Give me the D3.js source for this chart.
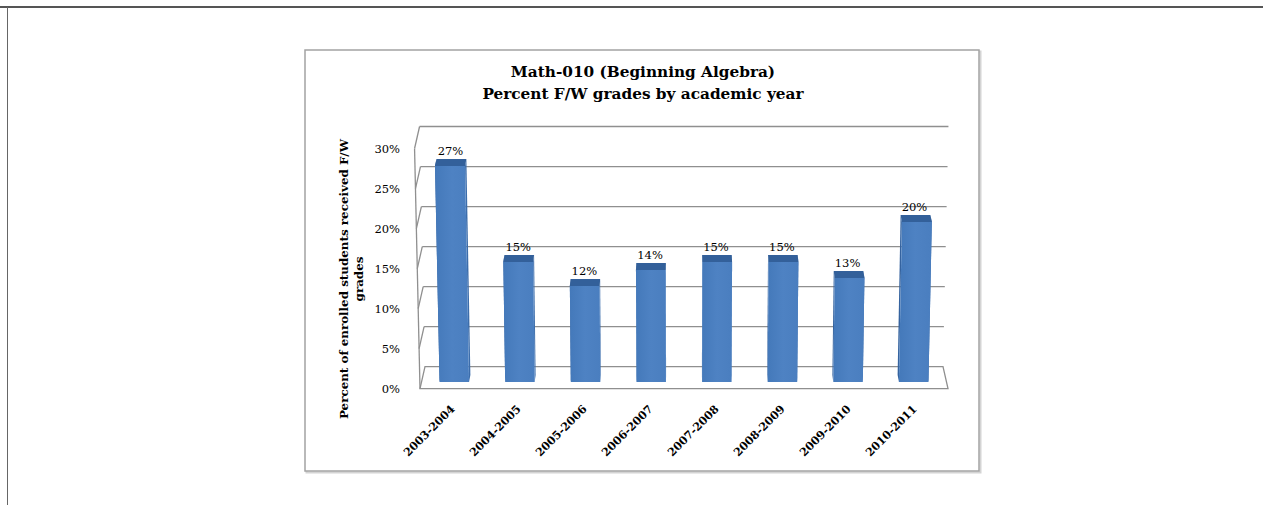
<!DOCTYPE html>
<html>
<head>
<meta charset="utf-8">
<script src="https://cdn.jsdelivr.net/npm/d3@7/dist/d3.min.js"></script>
<style>
  html, body { margin: 0; padding: 0; background: #fff; }
  svg { display: block; }
  text { font-family: "DejaVu Serif", "Liberation Serif", serif; fill: #000; }
</style>
</head>
<body>
<svg id="chart" width="1263" height="505"></svg>
<script>
// Academic years and share of F/W grades (percent)
const years = ["2003-2004", "2004-2005", "2005-2006", "2006-2007",
               "2007-2008", "2008-2009", "2009-2010", "2010-2011"];
const pctFW = [27, 15, 12, 14, 15, 15, 13, 20];
const tickValues = [0, 5, 10, 15, 20, 25, 30];
const titleLines = ["Math-010 (Beginning Algebra)", "Percent F/W grades by academic year"];
const yTitleLines = ["Percent of enrolled students received F/W", "grades"];

const svg = d3.select("#chart");

// page rules
svg.append("line").attr("x1", 0).attr("x2", 1263).attr("y1", 7).attr("y2", 7)
  .attr("stroke", "#555").attr("stroke-width", 2);
svg.append("line").attr("x1", 7.5).attr("x2", 7.5).attr("y1", 7).attr("y2", 505)
  .attr("stroke", "#666").attr("stroke-width", 1);

// chart area with soft shadow
const frame = { x: 305, y: 50, w: 674, h: 421 };
svg.append("rect").attr("x", frame.x + 1.5).attr("y", frame.y + 1.5)
  .attr("width", frame.w).attr("height", frame.h)
  .attr("fill", "none").attr("stroke", "#d4d4d4").attr("stroke-width", 2);
svg.append("rect").attr("x", frame.x).attr("y", frame.y)
  .attr("width", frame.w).attr("height", frame.h)
  .attr("fill", "#fff").attr("stroke", "#a3a3a3").attr("stroke-width", 1.5);

// title
const title = svg.append("text").attr("text-anchor", "middle")
  .attr("font-weight", "bold").attr("font-size", 15.3);
titleLines.forEach((t, i) => {
  title.append("tspan").attr("x", 643).attr("y", 77 + i * 22).text(t);
});

// 3-D plot geometry: u = horizontal position on the back floor edge,
// v = value (percent), d = depth (0 = back wall, 1 = front edge)
const X0 = 425, X1 = 943, CX = (X0 + X1) / 2, DEPTH = 22;
const y = d3.scaleLinear().domain([0, 30]).range([366.7, 126.5]);
const x = d3.scaleBand().domain(years).range([X0, X1])
  .paddingInner(0.55).paddingOuter(0.275);

function P(u, v, d) {
  const k = 1 + 0.0007 * v + 0.0193 * d;
  return [CX + (u - CX) * k, y(v) + DEPTH * d];
}
const poly = pts => pts.map(p => p.join(",")).join(" ");

const grid = svg.append("g").attr("stroke", "#8f8f8f").attr("stroke-width", 1.3)
  .attr("fill", "none");

// floor
grid.append("polygon")
  .attr("points", poly([P(X0, 0, 0), P(X1, 0, 0), P(X1, 0, 1), P(X0, 0, 1)]));

// back-wall and side-wall gridlines
tickValues.filter(v => v > 0).forEach(v => {
  const a = P(X0, v, 0), b = P(X1, v, 0), c = P(X0, v, 1);
  grid.append("line").attr("x1", a[0]).attr("y1", a[1]).attr("x2", b[0]).attr("y2", b[1]);
  grid.append("line").attr("x1", a[0]).attr("y1", a[1]).attr("x2", c[0]).attr("y2", c[1]);
});
// front edge of the side wall
{
  const a = P(X0, 0, 1), b = P(X0, 30, 1);
  grid.append("line").attr("x1", a[0]).attr("y1", a[1]).attr("x2", b[0]).attr("y2", b[1]);
}

// value axis (labels sit on the front plane)
const yFront = d3.scaleLinear().domain(y.domain()).range(y.range().map(r => r + DEPTH));
const yAxis = svg.append("g").attr("transform", "translate(402,0)")
  .call(d3.axisLeft(yFront).tickValues(tickValues).tickSize(0).tickPadding(2)
    .tickFormat(d => d + "%"));
yAxis.select(".domain").remove();
yAxis.selectAll("text").attr("font-family", "DejaVu Serif").attr("font-size", 11.5)
  .attr("fill", "#111");

// value axis title
yTitleLines.forEach((t, i) => {
  svg.append("text")
    .attr("transform", `translate(${348 + i * 15},279) rotate(-90)`)
    .attr("text-anchor", "middle").attr("font-weight", "bold").attr("font-size", 11.9)
    .text(t);
});

// bars
const D_FRONT = 0.7, D_BACK = 0.38;
const shade = svg.append("defs").append("linearGradient").attr("id", "front")
  .attr("x1", 0).attr("x2", 1).attr("y1", 0).attr("y2", 0);
shade.append("stop").attr("offset", 0).attr("stop-color", "#4479ba");
shade.append("stop").attr("offset", 0.5).attr("stop-color", "#4e82c3");
shade.append("stop").attr("offset", 1).attr("stop-color", "#4a7ebf");

const bars = svg.append("g");
years.forEach((yr, i) => {
  const v = pctFW[i];
  const u0 = x(yr), u1 = x(yr) + x.bandwidth();
  const fbl = P(u0, 0, D_FRONT), fbr = P(u1, 0, D_FRONT);
  const ftl = P(u0, v, D_FRONT), ftr = P(u1, v, D_FRONT);
  const bbl = P(u0, 0, D_BACK), bbr = P(u1, 0, D_BACK);
  const btl = P(u0, v, D_BACK), btr = P(u1, v, D_BACK);
  const g = bars.append("g");
  // side faces
  g.append("polygon").attr("points", poly([ftl, btl, bbl, fbl])).attr("fill", "#35639f");
  g.append("polygon").attr("points", poly([ftr, btr, bbr, fbr])).attr("fill", "#3c6dab");
  // top face
  g.append("polygon").attr("points", poly([ftl, ftr, btr, btl])).attr("fill", "#33609a");
  // front face
  g.append("polygon").attr("points", poly([ftl, ftr, fbr, fbl])).attr("fill", "url(#front)");

  // value label
  const c = P(u0 + x.bandwidth() / 2, v, D_BACK);
  svg.append("text").attr("x", c[0] - 1).attr("y", c[1] - 3.5)
    .attr("text-anchor", "middle").attr("font-size", 11.5).attr("fill", "#111")
    .text(v + "%");

  // category label
  const f = P(u0 + x.bandwidth() / 2, 0, 1);
  svg.append("text")
    .attr("transform", `translate(${f[0] + 2.5},${f[1] + 21}) rotate(-45)`)
    .attr("text-anchor", "end").attr("font-weight", "bold").attr("font-size", 11.2)
    .text(yr);
});
</script>
</body>
</html>
